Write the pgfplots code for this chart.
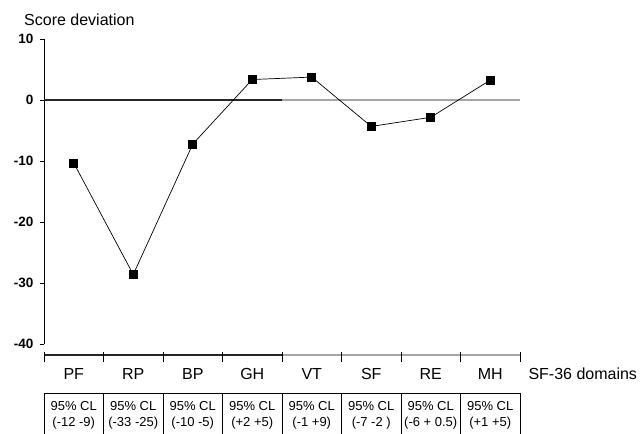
\documentclass[border=0pt]{standalone}
\usepackage{pgfplots}
\pgfplotsset{compat=1.18}
\usepackage{fontspec}
\setmainfont{Liberation Sans}
\begin{document}
\begin{tikzpicture}[x=1pt,y=1pt]
\useasboundingbox (-44,-90) rectangle (597,344);
\begin{axis}[
  at={(0,0)}, anchor=south west,
  scale only axis, width=476pt, height=304.7pt,
  xmin=0, xmax=8, ymin=-40, ymax=10,
  axis x line=none, axis y line=left,
  y axis line style={-, line width=0.8pt},
  ytick={-40,-30,...,10},
  tick align=outside, major tick length=4pt,
  tick style={black, line width=0.8pt},
  yticklabel style={font=\bfseries\fontsize{13.5}{15}\selectfont, xshift=-3pt},
  /pgf/number format/assume math mode=true,
  clip=false,
]
\draw[black!85, line width=1.5pt] (axis cs:0,0) -- (axis cs:4,0);
\draw[gray!70, line width=1.5pt] (axis cs:4,0) -- (axis cs:8,0);
\addplot[black, line width=0.7pt, mark=square*, mark size=4pt, mark options={solid}]
  coordinates {(0.5,-10.3)(1.5,-28.6)(2.5,-7.2)(3.5,3.4)(4.5,3.8)(5.5,-4.3)(6.5,-2.8)(7.5,3.3)};
\end{axis}
% category line
\draw[black!85, line width=1.2pt] (0,-11) -- (238,-11);
\draw[gray!70, line width=1.2pt] (238,-11) -- (476,-11);
\foreach \i in {0,...,8} { \draw[line width=0.8pt] (\i*59.5,-8) -- (\i*59.5,-18); }
\foreach \n [count=\c from 0] in {PF,RP,BP,GH,VT,SF,RE,MH}
  { \node[font=\fontsize{16}{18}\selectfont] at ({(\c+0.5)*59.5},-29.5) {\n}; }
\node[anchor=west, inner sep=0pt, font=\fontsize{16}{18}\selectfont] at (484.3,-29.5) {SF-36 domains};
\node[anchor=base west, inner sep=0pt, font=\fontsize{16}{18}\selectfont] at (-20,318.3) {Score deviation};
% CI table
\draw[line width=0.8pt] (0,-49.3) -- (476,-49.3);
\foreach \i in {0,...,8} { \draw[line width=0.8pt] (\i*59.5,-49.3) -- (\i*59.5,-92); }
\tikzset{ci/.style={align=center, font=\fontsize{13}{16}\selectfont, inner sep=0pt}}
\node[ci] at (29.75,-71) {95\% CL\\(-12 -9)};
\node[ci] at (89.25,-71) {95\% CL\\(-33 -25)};
\node[ci] at (148.75,-71) {95\% CL\\(-10 -5)};
\node[ci] at (208.25,-71) {95\% CL\\(+2 +5)};
\node[ci] at (267.75,-71) {95\% CL\\(-1 +9)};
\node[ci] at (327.25,-71) {95\% CL\\(-7 -2 )};
\node[ci] at (386.75,-71) {95\% CL\\(-6 + 0.5)};
\node[ci] at (446.25,-71) {95\% CL\\(+1 +5)};
\end{tikzpicture}
\end{document}
